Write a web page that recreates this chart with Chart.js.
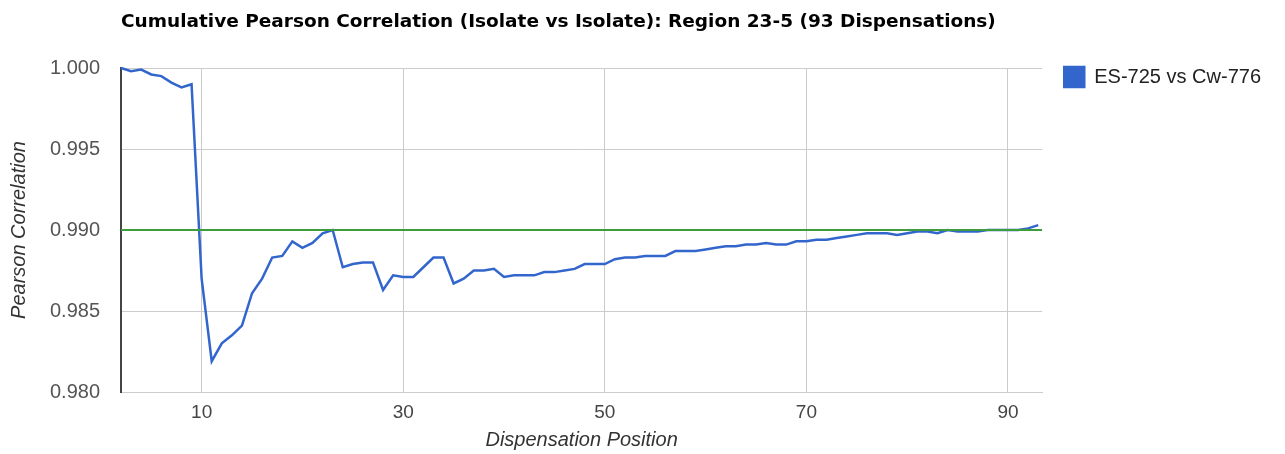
<!DOCTYPE html>
<html>
<head>
<meta charset="utf-8">
<title>Cumulative Pearson Correlation</title>
<script src="https://cdn.jsdelivr.net/npm/chart.js@4/dist/chart.umd.min.js"></script>
<style>
  html, body { margin: 0; padding: 0; background: #fff; }
  #wrap { width: 1285px; height: 454px; }
</style>
</head>
<body>
<div id="wrap"><canvas id="corrChart" width="1285" height="454"></canvas></div>
<script>
// データ
const chartTitle = "Cumulative Pearson Correlation (Isolate vs Isolate): Region 23-5 (93 Dispensations)";
const seriesName = "ES-725 vs Cw-776";

const positions = [
  2, 3, 4, 5, 6, 7, 8, 9, 10, 11, 12, 13, 14, 15, 16, 17, 18, 19, 20, 21,
  22, 23, 24, 25, 26, 27, 28, 29, 30, 31, 32, 33, 34, 35, 36, 37, 38, 39, 40, 41,
  42, 43, 44, 45, 46, 47, 48, 49, 50, 51, 52, 53, 54, 55, 56, 57, 58, 59, 60, 61,
  62, 63, 64, 65, 66, 67, 68, 69, 70, 71, 72, 73, 74, 75, 76, 77, 78, 79, 80, 81,
  82, 83, 84, 85, 86, 87, 88, 89, 90, 91, 92, 93
];

const correlation = [
  1.0000, 0.9998, 0.9999, 0.9996, 0.9995, 0.9991, 0.9988, 0.9990, 0.9870, 0.9819,
  0.9830, 0.9835, 0.9841, 0.9861, 0.9870, 0.9883, 0.9884, 0.9893, 0.9889, 0.9892,
  0.9898, 0.9900, 0.9877, 0.9879, 0.9880, 0.9880, 0.9863, 0.9872, 0.9871, 0.9871,
  0.9877, 0.9883, 0.9883, 0.9867, 0.9870, 0.9875, 0.9875, 0.9876, 0.9871, 0.9872,
  0.9872, 0.9872, 0.9874, 0.9874, 0.9875, 0.9876, 0.9879, 0.9879, 0.9879, 0.9882,
  0.9883, 0.9883, 0.9884, 0.9884, 0.9884, 0.9887, 0.9887, 0.9887, 0.9888, 0.9889,
  0.9890, 0.9890, 0.9891, 0.9891, 0.9892, 0.9891, 0.9891, 0.9893, 0.9893, 0.9894,
  0.9894, 0.9895, 0.9896, 0.9897, 0.9898, 0.9898, 0.9898, 0.9897, 0.9898, 0.9899,
  0.9899, 0.9898, 0.9900, 0.9899, 0.9899, 0.9899, 0.9900, 0.9900, 0.9900, 0.9900,
  0.9901, 0.9903
];

const threshold = 0.990;
const xRange = [2, 93.4];
const xTicks = [10, 30, 50, 70, 90];
const yTicks = [0.980, 0.985, 0.990, 0.995, 1.000];

const labelFont = "'Liberation Sans', Arial, sans-serif";

const points = positions.map((p, i) => ({ x: p, y: correlation[i] }));
const thresholdLine = xRange.map(x => ({ x: x, y: threshold }));

const canvas = document.getElementById("corrChart");

new Chart(canvas.getContext("2d"), {
  type: "line",
  data: {
    datasets: [
      {
        label: seriesName,
        data: points,
        borderColor: "#3366cc",
        backgroundColor: "#3366cc",
        borderWidth: 2.5,
        pointRadius: 0,
        tension: 0,
        clip: 4,
        order: 2
      },
      {
        label: "threshold",
        data: thresholdLine,
        borderColor: "#3d9d3d",
        backgroundColor: "#3d9d3d",
        borderWidth: 2,
        pointRadius: 0,
        order: 1
      }
    ]
  },
  options: {
    responsive: false,
    animation: false,
    layout: { padding: { top: 0, left: 0, right: 14, bottom: 0 } },
    plugins: {
      title: {
        display: true,
        text: chartTitle,
        align: "start",
        fullSize: false,
        color: "#000",
        font: { family: "'DejaVu Sans', sans-serif", size: 18.5, weight: "bold" },
        padding: { top: 11, bottom: 34.8 }
      },
      legend: {
        position: "right",
        align: "start",
        title: { display: true, text: "", padding: { top: 21, bottom: 0 }, font: { size: 20 } },
        labels: {
          boxWidth: 20,
          boxHeight: 20,
          padding: 22,
          color: "#222",
          font: { family: labelFont, size: 20 },
          filter: item => item.text !== "threshold"
        }
      },
      tooltip: { enabled: false }
    },
    scales: {
      x: {
        type: "linear",
        min: xRange[0],
        max: xRange[1],
        afterBuildTicks: axis => { axis.ticks = xTicks.map(v => ({ value: v })); },
        afterFit: axis => { axis.height = 62; },
        grid: { color: "#cccccc", drawTicks: false },
        border: { color: "#cccccc" },
        ticks: { color: "#444", padding: 9, font: { family: labelFont, size: 19 } },
        title: {
          display: true,
          text: "Dispensation Position",
          color: "#333",
          font: { family: labelFont, size: 20, style: "italic" },
          padding: { top: 0, bottom: 2 }
        }
      },
      y: {
        min: yTicks[0],
        max: yTicks[yTicks.length - 1],
        afterBuildTicks: axis => { axis.ticks = yTicks.map(v => ({ value: v })); },
        afterFit: axis => { axis.width = 121; },
        grid: { color: "#cccccc", drawTicks: false },
        border: { color: "#444", width: 2 },
        ticks: {
          color: "#555",
          padding: 21,
          font: { family: labelFont, size: 20 },
          callback: v => Number(v).toFixed(3)
        },
        title: {
          display: true,
          text: "Pearson Correlation",
          color: "#333",
          font: { family: labelFont, size: 20, style: "italic" },
          padding: { top: 7, bottom: 0 }
        }
      }
    }
  }
});
</script>
</body>
</html>
